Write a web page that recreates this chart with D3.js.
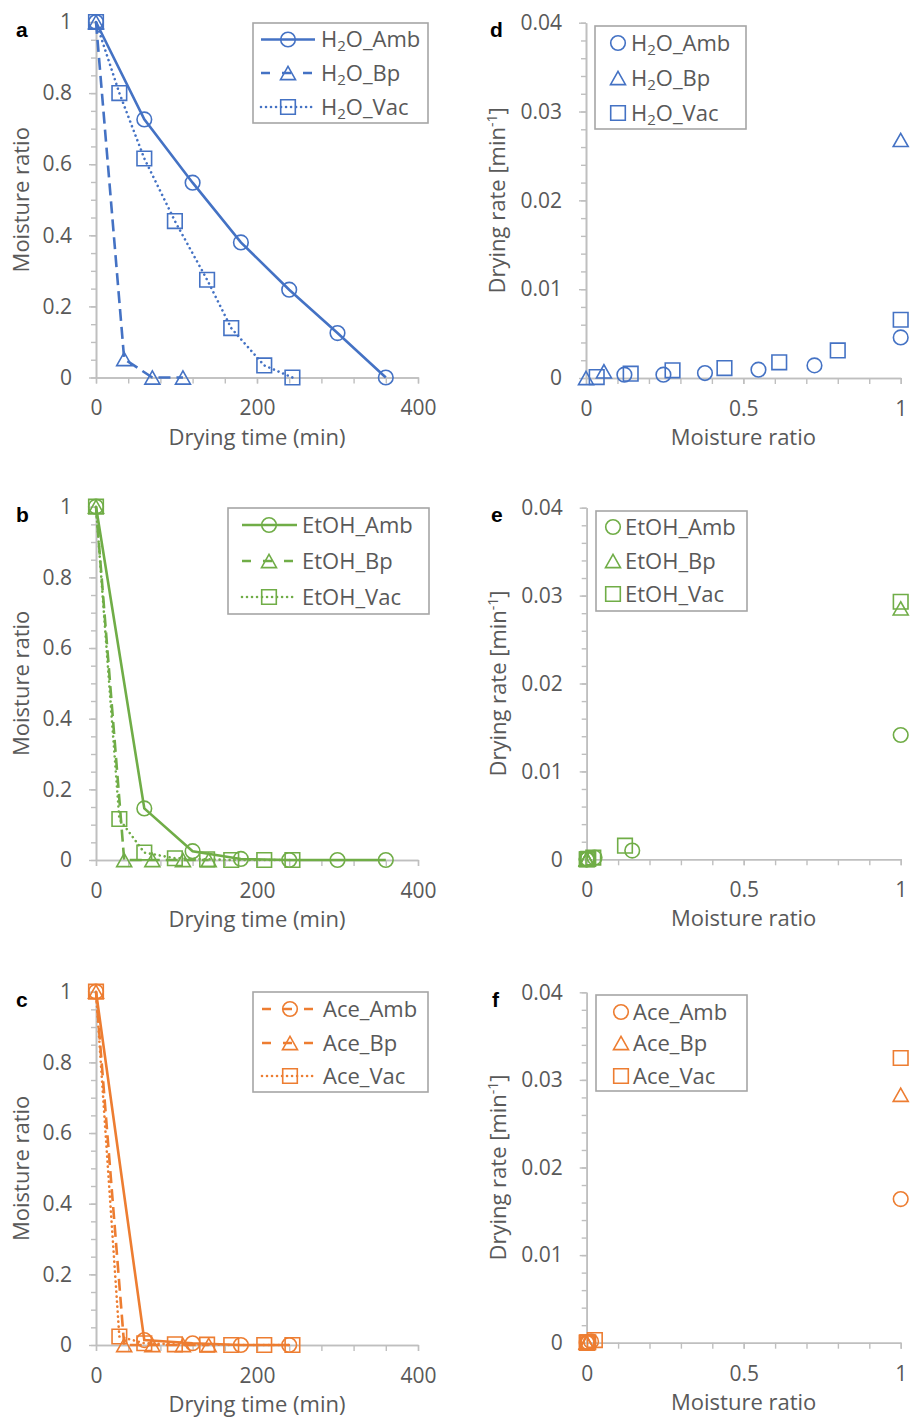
<!DOCTYPE html>
<html><head><meta charset="utf-8">
<script src="https://cdn.jsdelivr.net/npm/d3@7"></script>
<style>
body{margin:0;background:#fff;}
svg text{font-family:"Open Sans",sans-serif;}
</style></head><body>
<svg id="chart" width="913" height="1427"></svg>
<script>
// ---------- DATA ----------
// drying time points (min)
const timeAmbH2O = [0,60,120,180,240,300,360];
const timeBpH2O  = [0,35,70,108];
const timeVac    = [0,29,60,98,138,168,209,244];
const timeAmbEtOH = [0,60,120,180,240,300,360];
const timeBp     = [0,35,70,108,140];
const timeAmbAce = [0,60,120,180,240];

// moisture ratio series (panels a-c)
const mrH2OAmb  = [1,0.726,0.548,0.380,0.247,0.125,0];
const mrH2OBp   = [1,0.052,0,0];
const mrH2OVac  = [1,0.800,0.616,0.440,0.275,0.139,0.034,0];
const mrEtOHAmb = [1,0.146,0.025,0.003,0,0,0];
const mrEtOHBp  = [1,0,0,0,0];
const mrEtOHVac = [1,0.116,0.021,0.005,0.002,0,0,0];
const mrAceAmb  = [1,0.014,0.005,0,0];
const mrAceBp   = [1,0,0,0,0];
const mrAceVac  = [1,0.024,0.005,0.002,0.001,0,0,0];

// drying rate vs moisture ratio (panels d-f)
const drH2OAmbX  = [1,0.726,0.548,0.378,0.246,0.122];
const drH2OAmbY  = [0.00457,0.00142,0.00094,0.00056,0.00037,0.00037];
const drH2OBpX   = [1,0.057,0];
const drH2OBpY   = [0.0268,0.00075,0];
const drH2OVacX  = [1,0.800,0.614,0.440,0.275,0.142,0.034];
const drH2OVacY  = [0.00656,0.00311,0.00176,0.00112,0.00086,0.00049,0.0001];
const drEtOHAmbX = [1,0.145,0.025,0.003,0,0];
const drEtOHAmbY = [0.01414,0.00099,0.0002,0.00004,0,0];
const drEtOHBpX  = [1,0,0,0];
const drEtOHBpY  = [0.02855,0,0,0];
const drEtOHVacX = [1,0.122,0.021,0.005,0.002,0];
const drEtOHVacY = [0.0293,0.00155,0.0002,0.00005,0.00001,0];
const drAceAmbX  = [1,0.014,0.005,0];
const drAceAmbY  = [0.0164,0.00015,0.00002,0];
const drAceBpX   = [1,0,0,0];
const drAceBpY   = [0.0283,0,0,0];
const drAceVacX  = [1,0.026,0.005,0.002,0.001,0];
const drAceVacY  = [0.0325,0.0003,0.00005,0.00001,0,0];

// tick labels
const mrTicks   = [0,0.2,0.4,0.6,0.8,1];
const timeTicks = [0,200,400];
const rateTicks = [0,0.01,0.02,0.03,0.04];
const mrXTicks  = [0,0.5,1];

// ---------- STYLE / LAYOUT ----------
const BLUE="#4472C4", GREEN="#70AD47", ORANGE="#ED7D31";
const AXIS="#bfbfbf", TXT="#595959";
const FS = "22px", TFS = "21px";
const svg = d3.select("#chart");

const symCircle = {draw(ctx,size){const r=7.3;ctx.moveTo(r,0);ctx.arc(0,0,r,0,2*Math.PI);}};
const symSquare = {draw(ctx,size){const s=7.3;ctx.rect(-s,-s,2*s,2*s);}};
const symTri = {draw(ctx,size){const w=7.5,h=6.6;ctx.moveTo(0,-h);ctx.lineTo(w,h);ctx.lineTo(-w,h);ctx.closePath();}};
const dashes = {solid:null, dash:"12,6", dot:"0.01,5"};
const legDashes = {solid:null, dash:"9,12", dot:"0.01,5"};

function zip(a,b){return a.map((v,i)=>[v,b[i]]);}

function axes(g, x, y, o){
  const h = y.range()[0];
  g.append("g").call(d3.axisLeft(y).tickValues(o.yMinor).tickSize(5).tickFormat("").tickSizeOuter(0));
  g.append("g").call(d3.axisLeft(y).tickValues(o.yMajor).tickSize(7).tickPadding(17).tickFormat(o.yFmt).tickSizeOuter(0));
  g.append("g").attr("transform",`translate(0,${h})`).call(d3.axisBottom(x).tickValues(o.xMinor).tickSize(6).tickFormat("").tickSizeOuter(0));
  g.append("g").attr("transform",`translate(0,${h})`).call(d3.axisBottom(x).tickValues(o.xMajor).tickSize(6).tickPadding(17).tickFormat(o.xFmt).tickSizeOuter(0));
  g.selectAll(".domain").attr("stroke",AXIS).attr("stroke-width",1.6);
  g.selectAll(".tick line").attr("stroke",AXIS).attr("stroke-width",1.4);
  g.selectAll(".tick text").attr("fill",TXT).style("font-size",TFS).style("font-family","'Open Sans',sans-serif");
}

function panel(p){
  const g = svg.append("g").attr("transform",`translate(${p.left},${p.top})`);
  const W = p.right-p.left, H = p.bottom-p.top;
  const x = d3.scaleLinear().domain(p.xDom).range([0,W]);
  const y = d3.scaleLinear().domain(p.yDom).range([H,0]);
  axes(g,x,y,p);
  g.append("text").attr("x",W/2).attr("y",H+p.xTitleDy).attr("text-anchor","middle")
    .attr("fill",TXT).style("font-size",FS).text(p.xTitle);
  const yt = g.append("text").attr("transform",`translate(${p.yTitleDx},${H/2}) rotate(-90)`)
    .attr("text-anchor","middle").attr("fill",TXT).style("font-size",FS);
  if(p.rate){
    yt.append("tspan").text("Drying rate [min");
    yt.append("tspan").attr("dy",-8).style("font-size","14px").text("-1");
    yt.append("tspan").attr("dy",8).text("]");
  } else yt.text(p.yTitle);
  svg.append("text").attr("x",p.labX).attr("y",p.labY).attr("fill","#000")
    .style("font-size","21px").style("font-weight","bold").style("font-family","'Liberation Sans',Arial,sans-serif").text(p.label);
  p.series.forEach(s=>{
    const pts = zip(s.x,s.y);
    if(s.line){
      g.append("path").datum(pts).attr("fill","none").attr("stroke",p.color).attr("stroke-width",2.6)
        .attr("stroke-dasharray",dashes[s.line]).attr("stroke-linecap",s.line==="dot"?"round":"butt")
        .attr("d",d3.line().x(d=>x(d[0])).y(d=>y(d[1])));
    }
    g.selectAll(null).data(pts).join("path")
      .attr("transform",d=>`translate(${x(d[0])},${y(d[1])})`)
      .attr("d",d3.symbol().type(s.sym)()).attr("fill","none").attr("stroke",p.color).attr("stroke-width",1.6);
  });
  const L = p.legend;
  const lg = svg.append("g");
  lg.append("rect").attr("x",L.x0).attr("y",L.y0).attr("width",L.x1-L.x0).attr("height",L.y1-L.y0)
    .attr("fill","#fff").attr("stroke","#a6a6a6").attr("stroke-width",1.6);
  p.series.forEach((s,i)=>{
    const ry = L.rows[i];
    if(L.line){
      lg.append("line").attr("x1",L.lx0).attr("x2",L.lx1).attr("y1",ry).attr("y2",ry)
        .attr("stroke",p.color).attr("stroke-width",2.6)
        .attr("stroke-dasharray",legDashes[s.legLine])
        .attr("stroke-linecap",s.legLine==="dot"?"round":"butt");
    }
    lg.append("path").attr("transform",`translate(${L.mx},${ry})`).attr("d",d3.symbol().type(s.sym)())
      .attr("fill","none").attr("stroke",p.color).attr("stroke-width",1.6);
    const t = lg.append("text").attr("x",L.tx).attr("y",ry+7.8).attr("fill",TXT).style("font-size",FS);
    if(s.name.startsWith("H2O")){
      t.append("tspan").text("H");
      t.append("tspan").attr("dy",4).style("font-size","15px").text("2");
      t.append("tspan").attr("dy",-4).text(s.name.slice(2));
    } else t.text(s.name);
  });
}

const mrMinor = d3.range(0,1.0001,0.05).map(v=>+v.toFixed(2));
const tMinor = d3.range(0,401,40);
const rMinor = d3.range(0,0.04001,0.002).map(v=>+v.toFixed(3));
const xMinorMR = d3.range(0,1.0001,0.1).map(v=>+v.toFixed(1));
const fmt = d=>String(d);

const common1 = {xDom:[0,400],yDom:[0,1],xMajor:timeTicks,xMinor:tMinor,yMajor:mrTicks,yMinor:mrMinor,
  xFmt:fmt,yFmt:fmt,xTitle:"Drying time (min)",yTitle:"Moisture ratio",xTitleDy:67,yTitleDx:-67,left:96,right:418};
const common2 = {xDom:[0,1],yDom:[0,0.04],xMajor:mrXTicks,xMinor:xMinorMR,yMajor:rateTicks,yMinor:rMinor,
  xFmt:fmt,yFmt:fmt,xTitle:"Moisture ratio",rate:true,xTitleDy:67,yTitleDx:-81};

panel(Object.assign({},common1,{top:22,bottom:377.5,color:BLUE,label:"a",labX:16,labY:37,
  series:[{name:"H2O_Amb",x:timeAmbH2O,y:mrH2OAmb,sym:symCircle,line:"solid",legLine:"solid"},
          {name:"H2O_Bp",x:timeBpH2O,y:mrH2OBp,sym:symTri,line:"dash",legLine:"dash"},
          {name:"H2O_Vac",x:timeVac,y:mrH2OVac,sym:symSquare,line:"dot",legLine:"dot"}],
  legend:{x0:253,y0:23,x1:428,y1:123,rows:[39.5,73,107],line:true,lx0:261,lx1:315,mx:288,tx:321}}));
panel(Object.assign({},common1,{top:506.7,bottom:860,color:GREEN,label:"b",labX:16,labY:522,
  series:[{name:"EtOH_Amb",x:timeAmbEtOH,y:mrEtOHAmb,sym:symCircle,line:"solid",legLine:"solid"},
          {name:"EtOH_Bp",x:timeBp,y:mrEtOHBp,sym:symTri,line:"dash",legLine:"dash"},
          {name:"EtOH_Vac",x:timeVac,y:mrEtOHVac,sym:symSquare,line:"dot",legLine:"dot"}],
  legend:{x0:228,y0:508,x1:429,y1:614,rows:[525,561,597],line:true,lx0:242,lx1:297,mx:269,tx:302}}));
panel(Object.assign({},common1,{top:991.7,bottom:1345,color:ORANGE,label:"c",labX:16,labY:1007,
  series:[{name:"Ace_Amb",x:timeAmbAce,y:mrAceAmb,sym:symCircle,line:"solid",legLine:"dash"},
          {name:"Ace_Bp",x:timeBp,y:mrAceBp,sym:symTri,line:"dash",legLine:"dash"},
          {name:"Ace_Vac",x:timeVac,y:mrAceVac,sym:symSquare,line:"dot",legLine:"dot"}],
  legend:{x0:253,y0:992,x1:428,y1:1092,rows:[1009,1043,1076],line:true,lx0:262,lx1:316,mx:290,tx:323}}));

panel(Object.assign({},common2,{left:586,right:900.7,top:22.7,bottom:378,color:BLUE,label:"d",labX:490,labY:37,
  series:[{name:"H2O_Amb",x:drH2OAmbX,y:drH2OAmbY,sym:symCircle},
          {name:"H2O_Bp",x:drH2OBpX,y:drH2OBpY,sym:symTri},
          {name:"H2O_Vac",x:drH2OVacX,y:drH2OVacY,sym:symSquare}],
  legend:{x0:595,y0:26,x1:746,y1:129,rows:[43,78,113],line:false,mx:618,tx:631}}));
panel(Object.assign({},common2,{left:586.7,right:900.7,top:507.7,bottom:859.3,color:GREEN,label:"e",labX:491,labY:522,
  series:[{name:"EtOH_Amb",x:drEtOHAmbX,y:drEtOHAmbY,sym:symCircle},
          {name:"EtOH_Bp",x:drEtOHBpX,y:drEtOHBpY,sym:symTri},
          {name:"EtOH_Vac",x:drEtOHVacX,y:drEtOHVacY,sym:symSquare}],
  legend:{x0:596,y0:511,x1:747,y1:611,rows:[527,561,594],line:false,mx:613,tx:625}}));
panel(Object.assign({},common2,{left:586.7,right:900.7,top:992.3,bottom:1342.7,color:ORANGE,label:"f",labX:492,labY:1007,
  series:[{name:"Ace_Amb",x:drAceAmbX,y:drAceAmbY,sym:symCircle},
          {name:"Ace_Bp",x:drAceBpX,y:drAceBpY,sym:symTri},
          {name:"Ace_Vac",x:drAceVacX,y:drAceVacY,sym:symSquare}],
  legend:{x0:596,y0:995,x1:747,y1:1091,rows:[1012,1043,1076],line:false,mx:621,tx:633}}));
</script>
</body></html>
